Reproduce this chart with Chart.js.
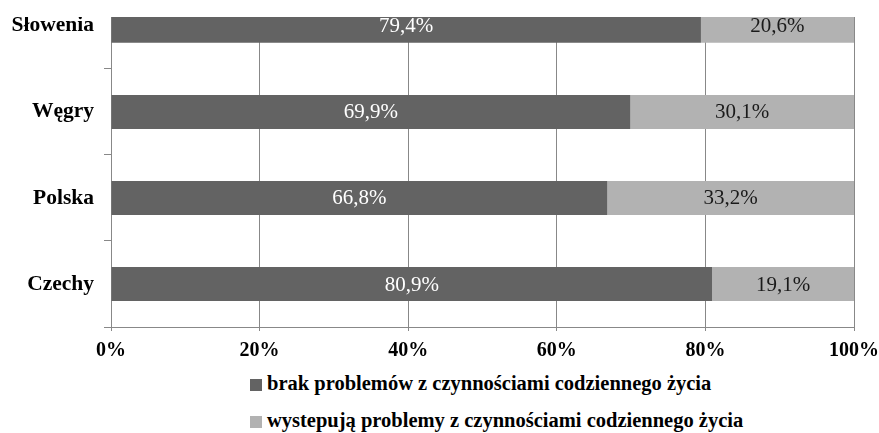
<!DOCTYPE html>
<html lang="pl">
<head>
<meta charset="utf-8">
<script src="https://cdn.jsdelivr.net/npm/chart.js@4/dist/chart.umd.min.js"></script>
<style>
  body { margin: 0; background: #fff; width: 879px; height: 433px; position: relative; overflow: hidden; }
  #clip { position: absolute; left: 0; top: 17px; width: 879px; height: 416px; overflow: hidden; }
  #myChart { position: absolute; left: 0; top: -57px; }
  .leg { position: absolute; left: 250px; height: 14px; font: bold 20.5px "Liberation Serif", serif; color: #000; white-space: nowrap; }
  .leg span { display: inline-block; width: 12px; height: 12px; margin-right: 5px; vertical-align: -1px; }
</style>
</head>
<body>
<div id="clip"><canvas id="myChart" width="879" height="410"></canvas></div>
<div id="legend"></div>
<script>
const countries = ['Słowenia', 'Węgry', 'Polska', 'Czechy'];
const noProblems = [79.4, 69.9, 66.8, 80.9];
const withProblems = [20.6, 30.1, 33.2, 19.1];
const seriesNames = [
    'brak problemów z czynnościami codziennego życia',
    'wystepują problemy z czynnościami codziennego życia'
];
const seriesColors = ['#636363', '#b2b2b2'];
const labelColors = ['#ffffff', '#1a1a1a'];
const xTicks = [0, 20, 40, 60, 80, 100];

// legend as plain html, rows left-aligned like the original
const legendTops = [372, 409];
seriesNames.forEach(function(name, i) {
    const row = document.createElement('div');
    row.className = 'leg';
    row.style.top = legendTops[i] + 'px';
    row.innerHTML = '<span style="background:' + seriesColors[i] + '"></span>' + name;
    document.getElementById('legend').appendChild(row);
});

const barLabels = {
    id: 'barLabels',
    afterDatasetsDraw(chart) {
        const ctx = chart.ctx;
        ctx.save();
        ctx.font = '21px "Liberation Serif", serif';
        ctx.textAlign = 'center';
        ctx.textBaseline = 'middle';
        chart.data.datasets.forEach(function(ds, i) {
            chart.getDatasetMeta(i).data.forEach(function(bar, j) {
                ctx.fillStyle = labelColors[i];
                const txt = ds.data[j].toFixed(1).replace('.', ',') + '%';
                ctx.fillText(txt, (bar.x + bar.base) / 2, bar.y + 1);
            });
        });
        ctx.restore();
    }
};

const ctx = document.getElementById('myChart').getContext('2d');
new Chart(ctx, {
    type: 'bar',
    data: {
        labels: countries,
        datasets: [
            { label: seriesNames[0], data: noProblems, backgroundColor: seriesColors[0] },
            { label: seriesNames[1], data: withProblems, backgroundColor: seriesColors[1] }
        ]
    },
    options: {
        indexAxis: 'y',
        responsive: false,
        animation: false,
        categoryPercentage: 1,
        barPercentage: 0.394,
        layout: { padding: { top: 21, right: 25, left: 0, bottom: 0 } },
        plugins: { legend: { display: false }, tooltip: { enabled: false } },
        scales: {
            x: {
                stacked: true,
                min: 0,
                max: 100,
                afterBuildTicks: function(scale) {
                    scale.ticks = xTicks.map(v => ({ value: v }));
                },
                afterFit: function(scale) {
                    scale.height = 43;
                    scale.paddingLeft = 0;
                    scale.paddingRight = 0;
                },
                grid: { color: '#888888', tickLength: 4, lineWidth: 1 },
                border: { color: '#888888' },
                ticks: {
                    padding: 8,
                    color: '#000',
                    font: { family: '"Liberation Serif", serif', size: 20, weight: 'bold' },
                    callback: v => v + '%'
                }
            },
            y: {
                stacked: true,
                afterFit: function(scale) { scale.width = 111; },
                grid: { drawOnChartArea: false, color: '#888888', tickLength: 7 },
                border: { color: '#888888' },
                ticks: {
                    padding: 10,
                    color: '#000',
                    font: { family: '"Liberation Serif", serif', size: 21.5, weight: 'bold' }
                }
            }
        }
    },
    plugins: [barLabels]
});
</script>
</body>
</html>
